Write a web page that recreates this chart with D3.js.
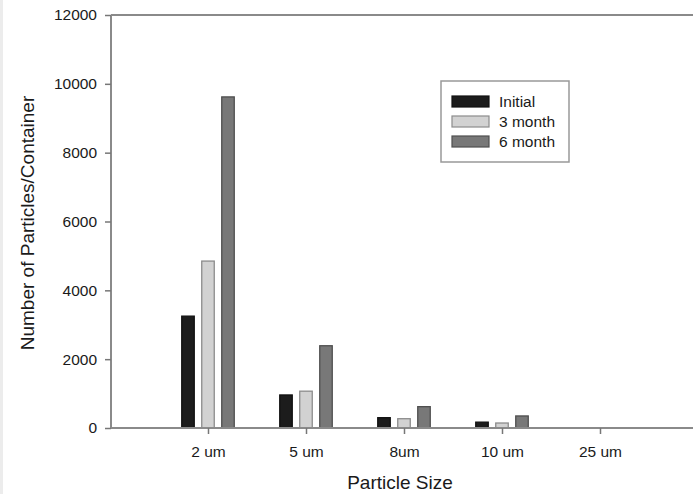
<!DOCTYPE html>
<html>
<head>
<meta charset="utf-8">
<script src="https://cdn.jsdelivr.net/npm/d3@7"></script>
<style>
  body { margin: 0; background: #fff; }
  svg { display: block; font-family: Arial, "Liberation Sans", sans-serif; }
</style>
</head>
<body>
<svg id="chart" width="693" height="494"></svg>
<script>
// values
var categories = ['2 um', '5 um', '8um', '10 um', '25 um'];
var series = ['Initial', '3 month', '6 month'];
var initial = [3250, 960, 300, 170, 0];
var month3 = [4850, 1070, 270, 145, 0];
var month6 = [9620, 2390, 620, 350, 0];
var yTicks = [0, 2000, 4000, 6000, 8000, 10000, 12000];

var fills = ['#1c1c1c', '#d2d2d2', '#787878'];
var strokes = ['#111', '#8c8c8c', '#4f4f4f'];
var values = [initial, month3, month6];

var svg = d3.select('#chart');

// light strip on the left edge, like the scan
svg.append('rect').attr('x', 0).attr('y', 0).attr('width', 3).attr('height', 494).attr('fill', '#ececec');

var plotLeft = 111, plotTop = 15, plotBottom = 428;

var y = d3.scaleLinear().domain([0, 12000]).range([plotBottom, plotTop]);
var x0 = d3.scalePoint().domain(categories).range([208, 600]);
var x1 = d3.scaleBand().domain(series).range([-30, 30]).paddingInner(0.375).paddingOuter(0.1875);

// frame top line
svg.append('line')
  .attr('x1', plotLeft).attr('x2', 693).attr('y1', plotTop).attr('y2', plotTop)
  .attr('stroke', '#8a8a8a').attr('stroke-width', 2);

// bars
var groups = svg.selectAll('g.size').data(categories).enter().append('g')
  .classed('size', true)
  .attr('transform', function(d) { return 'translate(' + x0(d) + ',0)'; });

groups.selectAll('rect')
  .data(function(d, i) {
    return series.map(function(s, j) { return {s: s, j: j, v: values[j][i]}; });
  })
  .enter().append('rect')
  .filter(function(d) { return d.v > 0; })
  .attr('x', function(d) { return x1(d.s); })
  .attr('width', x1.bandwidth())
  .attr('y', function(d) { return y(d.v); })
  .attr('height', function(d) { return plotBottom - y(d.v); })
  .attr('fill', function(d) { return fills[d.j]; })
  .attr('stroke', function(d) { return strokes[d.j]; })
  .attr('stroke-width', 1.3);

// y axis
var yAxis = svg.append('g')
  .attr('transform', 'translate(' + plotLeft + ',0)')
  .call(d3.axisLeft(y).tickValues(yTicks).tickSize(6).tickPadding(8).tickFormat(d3.format('d')));

// x axis
var xAxis = svg.append('g')
  .attr('transform', 'translate(0,' + plotBottom + ')')
  .call(d3.axisBottom(x0).tickSize(6).tickPadding(12));

[yAxis, xAxis].forEach(function(ax) {
  ax.attr('font-size', null).attr('font-family', null);
  ax.select('.domain').attr('stroke', '#8a8a8a').attr('stroke-width', 2);
  ax.selectAll('.tick line').attr('stroke', '#777').attr('stroke-width', 1.5);
  ax.selectAll('.tick text').attr('fill', '#1a1a1a').style('font-size', '15.5px');
});
xAxis.select('.domain').attr('d', 'M' + plotLeft + ',0H693');
yAxis.select('.domain').attr('d', 'M0,' + plotTop + 'V' + plotBottom);

// axis titles
svg.append('text')
  .attr('x', 400).attr('y', 489)
  .attr('text-anchor', 'middle')
  .style('font-size', '19px').attr('fill', '#1a1a1a')
  .text('Particle Size');

svg.append('text')
  .attr('transform', 'translate(34,223) rotate(-90)')
  .attr('text-anchor', 'middle')
  .style('font-size', '19px').attr('fill', '#1a1a1a')
  .text('Number of Particles/Container');

// legend
var legend = svg.append('g').attr('transform', 'translate(441,81)');
legend.append('rect')
  .attr('width', 128).attr('height', 81)
  .attr('fill', '#fff').attr('stroke', '#999').attr('stroke-width', 1.5);

var items = legend.selectAll('g.item').data(series).enter().append('g')
  .classed('item', true)
  .attr('transform', function(d, i) { return 'translate(0,' + (15 + i * 20) + ')'; });

items.append('rect')
  .attr('x', 11).attr('width', 37).attr('height', 11)
  .attr('fill', function(d, i) { return fills[i]; })
  .attr('stroke', function(d, i) { return strokes[i]; })
  .attr('stroke-width', 1.2);

items.append('text')
  .attr('x', 58).attr('y', 11)
  .style('font-size', '15.5px').attr('fill', '#1a1a1a')
  .text(function(d) { return d; });
</script>
</body>
</html>
